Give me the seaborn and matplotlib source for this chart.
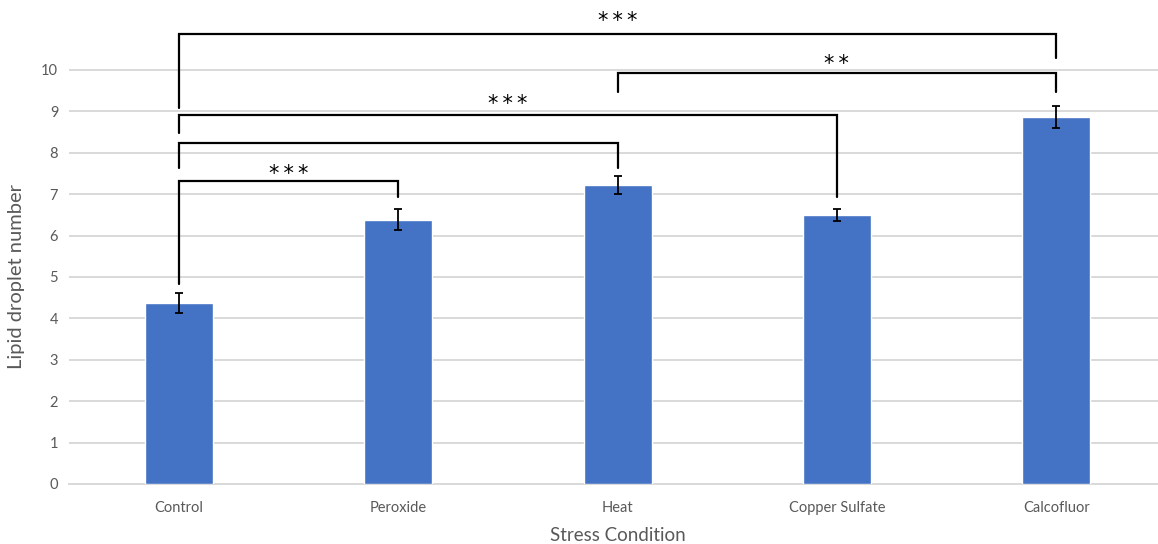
import matplotlib
matplotlib.use("Agg")
import matplotlib.pyplot as plt
import seaborn as sns
import pandas as pd

conditions = ["Control", "Peroxide", "Heat", "Copper Sulfate", "Calcofluor"]
means = [4.37, 6.38, 7.22, 6.50, 8.87]
errors = [0.25, 0.25, 0.22, 0.14, 0.26]

# significance brackets: (left bar, right bar, bracket height, left foot, right foot, label, label height)
brackets = [
    (0, 4, 10.87, 9.08, 10.29, "***", 11.28),
    (2, 4, 9.93, 9.47, 9.47, "**", 10.24),
    (0, 3, 8.91, 8.48, 6.93, "***", 9.28),
    (0, 2, 8.24, 7.63, 7.63, "", 0),
    (0, 1, 7.32, 4.83, 6.93, "***", 7.58),
]

sns.set_theme(style="white")
plt.rcParams["font.family"] = ["Lato", "DejaVu Sans"]

df = pd.DataFrame({"condition": conditions, "value": means})

fig = plt.figure(figsize=(11.58, 5.44), dpi=100)
ax = fig.add_axes([0.0598, 0.1103, 0.947, 0.8897])

sns.barplot(data=df, x="condition", y="value", color="#4472C4",
            saturation=1, width=0.31, errorbar=None, ax=ax, zorder=3)
ax.errorbar(range(len(means)), means, yerr=errors, fmt="none",
            ecolor="black", elinewidth=1.3, capsize=3, capthick=1.3, zorder=4)

for left, right, top, lfoot, rfoot, label, label_y in brackets:
    ax.plot([left, left, right, right], [lfoot, top, top, rfoot],
            color="black", lw=1.6, solid_joinstyle="miter", zorder=5, clip_on=False)
    if label:
        # the asterisk glyph sits high in its box, so nudge the text down a little
        ax.text((left + right) / 2, label_y - 0.1, "\u2009".join(label), ha="center",
                va="center", fontsize=15, color="black", family="DejaVu Sans")

ax.set_xlim(-0.5, 4.5)
ax.set_ylim(0, 11.69)
ax.set_yticks(range(0, 11))
ax.grid(axis="y", color="#D9D9D9", linewidth=1.4, zorder=0)
ax.set_axisbelow(True)
for side in ["top", "right", "left"]:
    ax.spines[side].set_visible(False)
ax.spines["bottom"].set_color("#D9D9D9")
ax.spines["bottom"].set_linewidth(1.4)
ax.tick_params(axis="both", length=0, labelsize=10.5, labelcolor="#595959", pad=8)
ax.tick_params(axis="x", pad=12)

ax.set_xlabel("Stress Condition", fontsize=13.5, color="#595959", labelpad=9)
ax.set_ylabel("Lipid droplet number", fontsize=14.5, color="#595959")
ax.yaxis.set_label_coords(-0.04, 5 / 11.69)

fig.savefig("out.png", dpi=100)
